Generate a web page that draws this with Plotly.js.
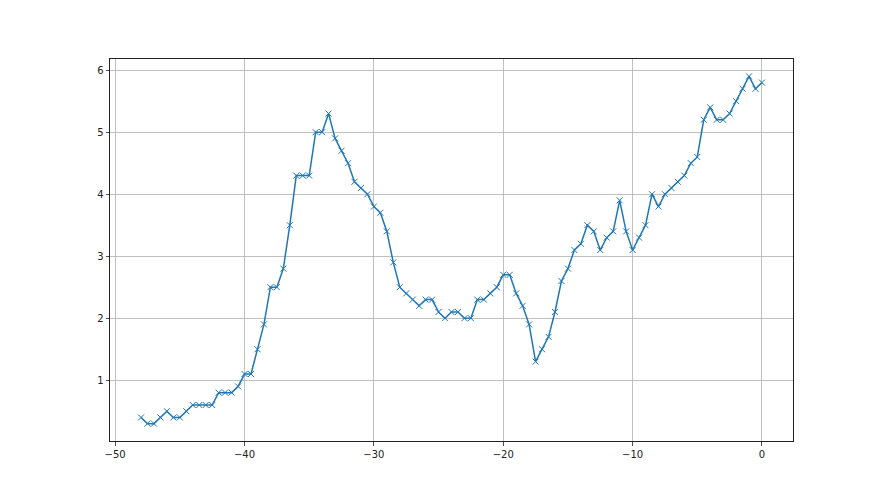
<!DOCTYPE html>
<html>
<head>
<meta charset="utf-8">
<script src="https://cdn.plot.ly/plotly-3.0.1.min.js"></script>
<style>html,body{margin:0;padding:0;background:#fff;}#chart{width:880px;height:495px;}</style>
</head>
<body>
<div id="chart"></div>
<script>
const xStart = -48;
const xStep = 0.5;
const yValues = [
  0.4, 0.3, 0.3, 0.4, 0.5, 0.4, 0.4, 0.5, 0.6, 0.6, 0.6, 0.6, 0.8, 0.8, 0.8, 0.9,
  1.1, 1.1, 1.5, 1.9, 2.5, 2.5, 2.8, 3.5, 4.3, 4.3, 4.3, 5.0, 5.0, 5.3, 4.9, 4.7,
  4.5, 4.2, 4.1, 4.0, 3.8, 3.7, 3.4, 2.9, 2.5, 2.4, 2.3, 2.2, 2.3, 2.3, 2.1, 2.0,
  2.1, 2.1, 2.0, 2.0, 2.3, 2.3, 2.4, 2.5, 2.7, 2.7, 2.4, 2.2, 1.9, 1.3, 1.5, 1.7,
  2.1, 2.6, 2.8, 3.1, 3.2, 3.5, 3.4, 3.1, 3.3, 3.4, 3.9, 3.4, 3.1, 3.3, 3.5, 4.0,
  3.8, 4.0, 4.1, 4.2, 4.3, 4.5, 4.6, 5.2, 5.4, 5.2, 5.2, 5.3, 5.5, 5.7, 5.9, 5.7,
  5.8
];
const xValues = yValues.map((_, i) => xStart + i * xStep);
const xTicks = [-50, -40, -30, -20, -10, 0];
const yTicks = [1, 2, 3, 4, 5, 6];

const trace = {
  x: xValues,
  y: yValues,
  type: 'scatter',
  mode: 'lines+markers',
  line: {color: '#1f77b4', width: 1.5},
  marker: {symbol: 'x-thin', size: 6, color: '#1f77b4', line: {width: 1, color: '#1f77b4'}},
  hoverinfo: 'none'
};

const axisCommon = {
  showline: true, mirror: true, linecolor: '#222', linewidth: 1,
  showgrid: true, gridcolor: '#b0b0b0', gridwidth: 0.8,
  zeroline: false,
  ticks: 'outside', ticklen: 3.5, tickwidth: 0.8, tickcolor: '#222',
  tickfont: {family: 'DejaVu Sans', size: 10, color: '#222'},
  tickmode: 'array'
};

const layout = {
  width: 880, height: 495,
  margin: {l: 110, r: 87, t: 59, b: 54},
  paper_bgcolor: '#fff', plot_bgcolor: '#fff',
  showlegend: false,
  xaxis: Object.assign({}, axisCommon, {
    range: [-50.4, 2.4], tickvals: xTicks, ticktext: xTicks.map(v => v < 0 ? '\u2212' + Math.abs(v) : String(v))
  }),
  yaxis: Object.assign({}, axisCommon, {
    range: [0.02, 6.18], tickvals: yTicks, ticktext: yTicks.map(String)
  })
};

Plotly.newPlot('chart', [trace], layout, {staticPlot: true, displayModeBar: false});
</script>
</body>
</html>
